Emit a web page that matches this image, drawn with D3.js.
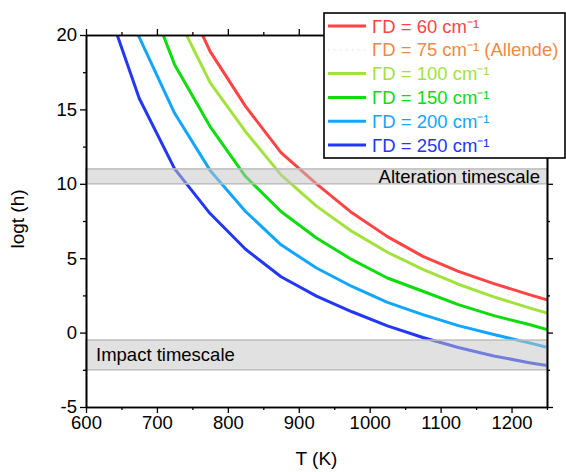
<!DOCTYPE html>
<html>
<head>
<meta charset="utf-8">
<script src="https://cdn.jsdelivr.net/npm/d3@7"></script>
<style>
  html, body { margin: 0; padding: 0; background: #fff; }
  svg { display: block; font-family: Arial, "Liberation Sans", sans-serif; }
</style>
</head>
<body>
<svg id="chart" width="566" height="472"></svg>
<script>
// temperature grid (K) shared by all series
var temps = [625, 675, 725, 775, 825, 875, 925, 975, 1025, 1075, 1125, 1175, 1225, 1250];

// log t (h) for each damping value
var gd60  = [null, null, 24.0, 18.9, 15.2, 12.1, 10.0, 8.05, 6.45, 5.12, 4.11, 3.29, 2.55, 2.2];
var gd75  = [null, null, 23.0, 18.2, 14.6, 11.5, 9.3, 7.5, 6.0, 4.75, 3.7, 2.85, 2.1, 1.75];
var gd100 = [null, null, 21.6, 16.8, 13.5, 10.6, 8.5, 6.8, 5.4, 4.25, 3.25, 2.4, 1.66, 1.32];
var gd150 = [null, 24.2, 18.0, 13.85, 10.49, 8.14, 6.36, 4.9, 3.67, 2.78, 1.88, 1.14, 0.54, 0.2];
var gd200 = [24.5, 19.85, 14.74, 10.9, 8.14, 5.9, 4.34, 3.1, 2.03, 1.21, 0.47, -0.13, -0.69, -0.99];
var gd250 = [22.6, 15.75, 11.0, 8.0, 5.6, 3.75, 2.45, 1.4, 0.45, -0.33, -1.0, -1.57, -2.02, -2.22];

var seriesNames = ['\u0393D = 60 cm\u207B\u00B9', '\u0393D = 75 cm\u207B\u00B9 (Allende)', '\u0393D = 100 cm\u207B\u00B9',
                   '\u0393D = 150 cm\u207B\u00B9', '\u0393D = 200 cm\u207B\u00B9', '\u0393D = 250 cm\u207B\u00B9'];
var seriesValues = [gd60, gd75, gd100, gd150, gd200, gd250];
var seriesColors = ['#ff4444', '#f28a3e', '#a2e23c', '#0ddc0d', '#12a6ff', '#2237f8'];

// timescale bands [low, high] in log t
var bandAlteration = [10, 11];
var bandImpact = [-2.5, -0.5];

var xTicks = [600, 700, 800, 900, 1000, 1100, 1200];
var yTicks = [-5, 0, 5, 10, 15, 20];

var width = 566, height = 472;
var margins = {left: 86, right: 19, top: 35, bottom: 65};
var innerW = width - margins.left - margins.right;
var innerH = height - margins.top - margins.bottom;
var fontSize = '18.5px';

var svg = d3.select('#chart');

var x = d3.scaleLinear().domain([600, 1250]).range([0, innerW]);
var y = d3.scaleLinear().domain([-5, 20]).range([innerH, 0]);

svg.append('defs').append('clipPath').attr('id', 'plot-clip')
  .append('rect').attr('width', innerW).attr('height', innerH);

var g = svg.append('g')
  .attr('transform', 'translate(' + margins.left + ',' + margins.top + ')');

// curves
var lines = g.append('g').attr('clip-path', 'url(#plot-clip)');
var line = d3.line()
  .defined(function(d) { return d[1] != null; })
  .x(function(d) { return x(d[0]); })
  .y(function(d) { return y(d[1]); });

seriesValues.forEach(function(vals, i) {
  var pts = temps.map(function(t, j) { return [t, vals[j]]; });
  var path = lines.append('path')
    .datum(pts)
    .attr('d', line)
    .attr('fill', 'none')
    .attr('stroke', seriesColors[i])
    .attr('stroke-width', 3)
    .attr('stroke-linejoin', 'round');
  if (i == 1) {
    path.attr('stroke-width', 1.5)
      .attr('stroke-dasharray', '1,5')
      .attr('stroke-opacity', 0.3);
  }
});

// bands, drawn on top of the curves
[bandAlteration, bandImpact].forEach(function(b) {
  g.append('rect')
    .attr('x', 0)
    .attr('width', innerW)
    .attr('y', y(b[1]))
    .attr('height', y(b[0]) - y(b[1]))
    .attr('fill', '#c4c4c4')
    .attr('fill-opacity', 0.5)
    .attr('stroke', '#bdbdbd')
    .attr('stroke-width', 1.5);
});

g.append('text')
  .attr('x', innerW - 7)
  .attr('y', (y(bandAlteration[0]) + y(bandAlteration[1])) / 2 + 6.5)
  .attr('text-anchor', 'end')
  .style('font-size', fontSize)
  .text('Alteration timescale');

g.append('text')
  .attr('x', 10)
  .attr('y', (y(bandImpact[0]) + y(bandImpact[1])) / 2 + 6.5)
  .style('font-size', fontSize)
  .text('Impact timescale');

// axes, ticks pointing outward on all four sides
var xMinor = d3.range(650, 1300, 100);
var yMinor = [-2.5, 2.5, 7.5, 12.5, 17.5];
var plain = function(d) { return String(d); };

function styleAxis(sel) {
  sel.select('.domain').attr('stroke', '#000').attr('stroke-width', 1.6);
  sel.selectAll('.tick line').attr('stroke', '#000').attr('stroke-width', 1.3);
  sel.selectAll('text').style('font-size', fontSize).attr('fill', '#000');
}

g.append('g').attr('transform', 'translate(0,' + innerH + ')')
  .call(d3.axisBottom(x).tickValues(xTicks).tickFormat(plain).tickSize(6).tickPadding(3).tickSizeOuter(0))
  .call(styleAxis);
g.append('g').attr('transform', 'translate(0,' + innerH + ')')
  .call(d3.axisBottom(x).tickValues(xMinor).tickSize(3).tickFormat('').tickSizeOuter(0))
  .call(styleAxis);

g.append('g')
  .call(d3.axisLeft(y).tickValues(yTicks).tickFormat(plain).tickSize(6).tickPadding(3).tickSizeOuter(0))
  .call(styleAxis);
g.append('g')
  .call(d3.axisLeft(y).tickValues(yMinor).tickSize(3).tickFormat('').tickSizeOuter(0))
  .call(styleAxis);

g.append('g')
  .call(d3.axisTop(x).tickValues(xTicks).tickSize(6).tickFormat('').tickSizeOuter(0))
  .call(styleAxis);
g.append('g')
  .call(d3.axisTop(x).tickValues(xMinor).tickSize(3).tickFormat('').tickSizeOuter(0))
  .call(styleAxis);

g.append('g').attr('transform', 'translate(' + innerW + ',0)')
  .call(d3.axisRight(y).tickValues(yTicks).tickSize(6).tickFormat('').tickSizeOuter(0))
  .call(styleAxis);
g.append('g').attr('transform', 'translate(' + innerW + ',0)')
  .call(d3.axisRight(y).tickValues(yMinor).tickSize(3).tickFormat('').tickSizeOuter(0))
  .call(styleAxis);

// axis titles
svg.append('text')
  .attr('x', margins.left + innerW / 2)
  .attr('y', 465)
  .attr('text-anchor', 'middle')
  .style('font-size', '19px')
  .text('T (K)');

svg.append('text')
  .attr('transform', 'translate(24,' + (margins.top + innerH / 2 - 2) + ') rotate(-90)')
  .attr('text-anchor', 'middle')
  .style('font-size', '19px')
  .text('logt (h)');

// legend
var legend = svg.append('g').attr('transform', 'translate(324,13)');
legend.append('rect')
  .attr('width', 241)
  .attr('height', 145)
  .attr('fill', '#fff')
  .attr('stroke', '#000')
  .attr('stroke-width', 1.6);

seriesNames.forEach(function(name, i) {
  var row = legend.append('g').attr('transform', 'translate(0,' + (13 + i * 23.8) + ')');
  var sample = row.append('line')
    .attr('x1', 4).attr('x2', 42)
    .attr('stroke', seriesColors[i])
    .attr('stroke-width', 3);
  if (i == 1) {
    sample.attr('stroke-width', 1.5)
      .attr('stroke-dasharray', '1,5')
      .attr('stroke-opacity', 0.3);
  }
  row.append('text')
    .attr('x', 48)
    .attr('y', 6.5)
    .attr('fill', seriesColors[i])
    .style('font-size', fontSize)
    .text(name);
});
</script>
</body>
</html>
